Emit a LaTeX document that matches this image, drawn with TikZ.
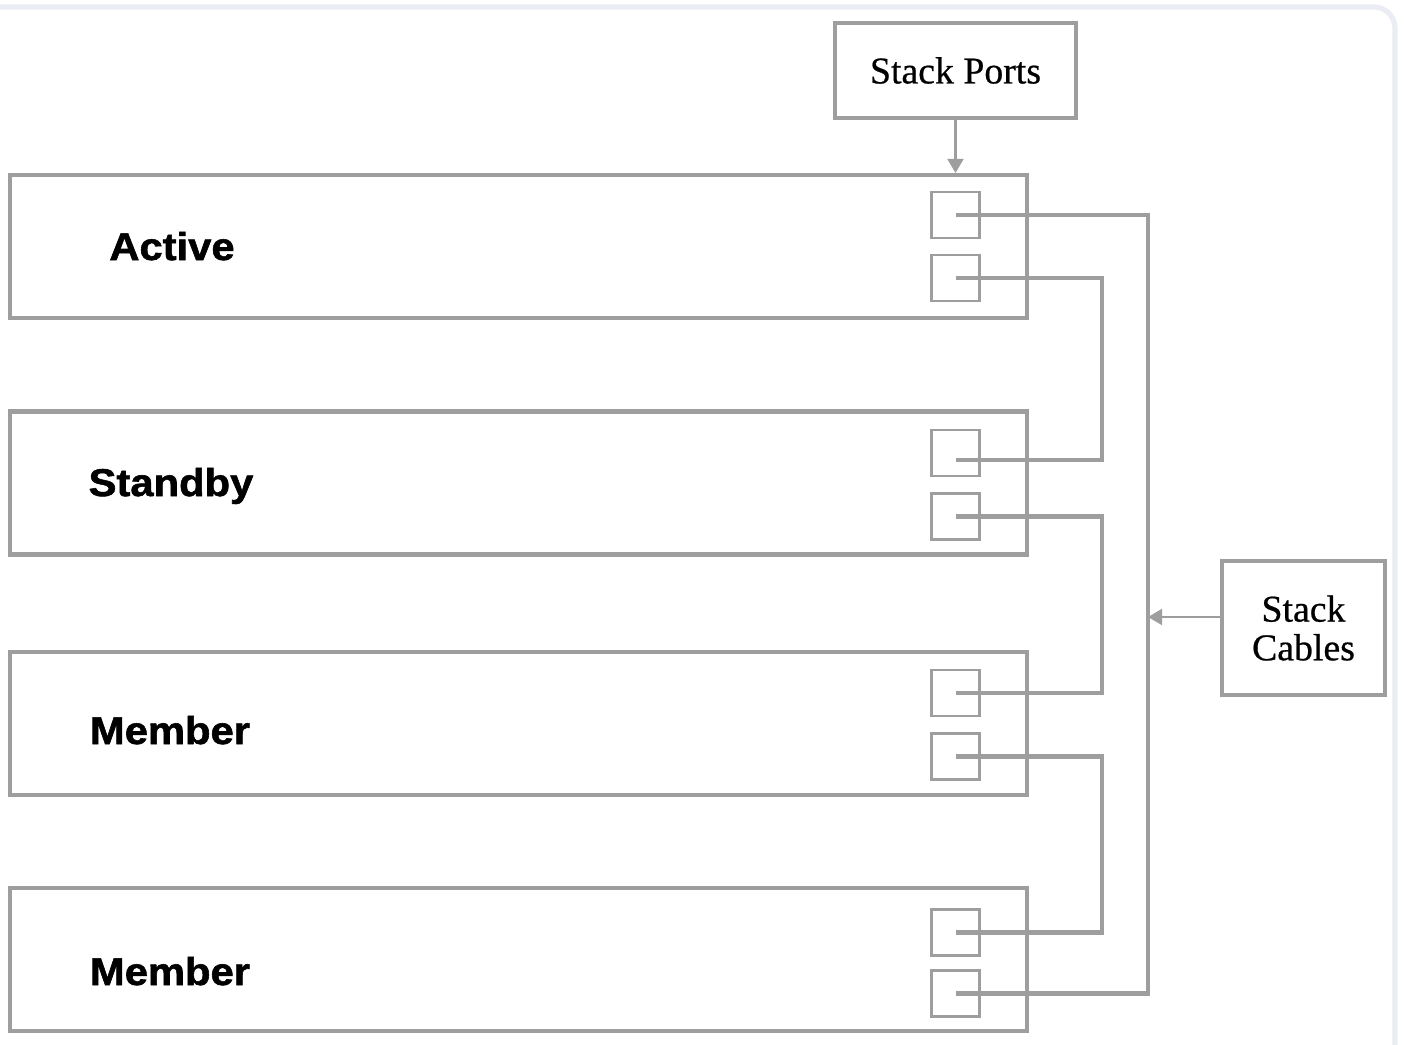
\documentclass[tikz,border=0pt]{standalone}
\usepackage{fontspec}
\setmainfont{Liberation Serif}[FakeBold=0.6]
\newfontfamily\labelfont{Liberation Sans}[FakeStretch=1.08, BoldFeatures={FakeBold=1.5}]
\usetikzlibrary{arrows.meta,positioning,calc}
\definecolor{linegray}{RGB}{158,158,158}
\definecolor{framegray}{RGB}{234,237,243}
\tikzset{
  switchbox/.style = {draw=linegray, line width=2.3pt, minimum width=20.34cm, minimum height=2.86cm, inner sep=0pt},
  portbox/.style   = {draw=linegray, line width=1.5pt, minimum width=0.96cm, minimum height=0.92cm, inner sep=0pt},
  infobox/.style   = {draw=linegray, line width=2.3pt, inner sep=0pt, align=center, font=\fontsize{21.5}{22}\selectfont},
  swlabel/.style   = {anchor=base, font=\labelfont\bfseries\fontsize{22}{26}\selectfont},
  cable/.style     = {draw=linegray, line width=2.3pt},
  pointer/.style   = {-{Triangle[length=8pt,width=9pt]}, draw=linegray, line width=1.4pt}
}

\begin{document}
\begin{tikzpicture}[x=0.02cm, y=-0.02cm]
  \useasboundingbox (0,0) rectangle (1404,1045);
  \draw[framegray, line width=3pt, rounded corners=12pt] (0,7) -- (1395,7) -- (1395,1045);

  % switches of the stack
  \node[switchbox] (active)  at (518.5,246.5) {};
  \node[switchbox] (standby) at (518.5,483) {};
  \node[switchbox] (member)  at (518.5,723.5) {};
  \node[switchbox] (member2) at (518.5,959.5) {};
  \node[swlabel] (activelbl)  at (172,260) {Active};
  \node[swlabel] (standbylbl) at (171,496) {Standby};
  \node[swlabel] (memberlbl)  at (170,744) {Member};
  \node[swlabel] (member2lbl) at (170,985) {Member};

  % stack ports
  \node[portbox] (a1) at (955.5,215) {};
  \node[portbox] (a2) at (955.5,278) {};
  \node[portbox] (s1) at (955.5,453) {};
  \node[portbox] (s2) at (955.5,516.5) {};
  \node[portbox] (m1) at (955.5,693) {};
  \node[portbox] (m2) at (955.5,756.5) {};
  \node[portbox] (n1) at (955.5,932.5) {};
  \node[portbox] (n2) at (955.5,993.5) {};

  % stack cables
  \coordinate (outerrun) at (1148,0);
  \coordinate (innerrun) at (1102,0);
  \draw[cable] (a1.center) -- (a1.center -| outerrun) |- (n2.center);
  \draw[cable] (a2.center) -- (a2.center -| innerrun) |- ($(s1.center)+(0,7)$);
  \draw[cable] (s2.center) -- (s2.center -| innerrun) |- (m1.center);
  \draw[cable] (m2.center) -- (m2.center -| innerrun) |- (n1.center);

  % callouts
  \node[infobox, minimum width=4.82cm, minimum height=1.9cm] (ports) at (955.5,70.5) {Stack Ports};
  \node[infobox, minimum width=3.26cm, minimum height=2.68cm] (cables) at (1303.5,628) {Stack\\Cables};
  \draw[pointer] (ports.south) -- (ports.south |- active.north);
  \coordinate (cablesin) at ($(cables.west)+(0,-11)$);
  \draw[pointer] (cablesin) -- (cablesin -| outerrun);
\end{tikzpicture}
\end{document}
